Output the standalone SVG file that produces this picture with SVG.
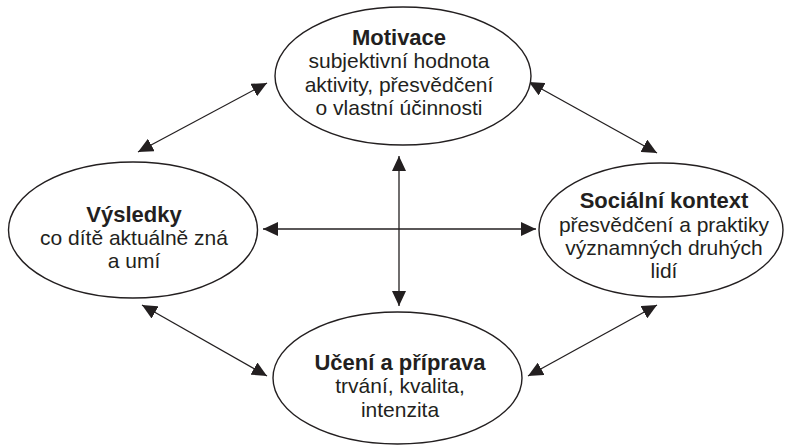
<svg xmlns="http://www.w3.org/2000/svg" width="786" height="447" viewBox="0 0 786 447">
<style>
.node ellipse{fill:#fff;stroke:#231f20;stroke-width:1.4}
text{font-family:"Liberation Sans",Arial,sans-serif;font-size:21px;fill:#231f20;text-anchor:middle}
.t{font-weight:bold;font-size:22px}
.conn line{stroke:#231f20;stroke-width:1.3;marker-start:url(#ah);marker-end:url(#ah)}
</style>
<defs>
<marker id="ah" markerUnits="userSpaceOnUse" markerWidth="15" markerHeight="14" viewBox="0 0 15 14" refX="15" refY="7" orient="auto-start-reverse">
<path d="M0,0 L15,7 L0,14 z" fill="#231f20"/>
</marker>
</defs>
<rect width="786" height="447" fill="#fff"/>
<g class="conn" id="connectors">
<line x1="399" y1="156" x2="399" y2="306"/>
<line x1="263" y1="229" x2="536" y2="229"/>
<line x1="138" y1="152" x2="267" y2="83"/>
<line x1="529" y1="82" x2="657" y2="153"/>
<line x1="142" y1="305" x2="267" y2="376"/>
<line x1="657" y1="305" x2="528" y2="376"/>
</g>
<g class="node" id="motivace">
<ellipse cx="403" cy="76" rx="128" ry="69"/>
<text class="t" x="399" y="45">Motivace</text>
<text x="399" y="68">subjektivní hodnota</text>
<text x="399" y="92">aktivity, přesvědčení</text>
<text x="399" y="115">o vlastní účinnosti</text>
</g>
<g class="node" id="vysledky">
<ellipse cx="133" cy="230" rx="124.5" ry="68"/>
<text class="t" x="134" y="222">Výsledky</text>
<text x="134" y="245">co dítě aktuálně zná</text>
<text x="134" y="268">a umí</text>
</g>
<g class="node" id="socialni">
<ellipse cx="661" cy="230" rx="122" ry="67"/>
<text class="t" x="664" y="208">Sociální kontext</text>
<text x="664" y="232">přesvědčení a praktiky</text>
<text x="664" y="255">významných druhých</text>
<text x="664" y="278">lidí</text>
</g>
<g class="node" id="uceni">
<ellipse cx="397.5" cy="378" rx="124.5" ry="66"/>
<text class="t" x="400" y="370">Učení a příprava</text>
<text x="400" y="393">trvání, kvalita,</text>
<text x="400" y="417">intenzita</text>
</g>
</svg>
